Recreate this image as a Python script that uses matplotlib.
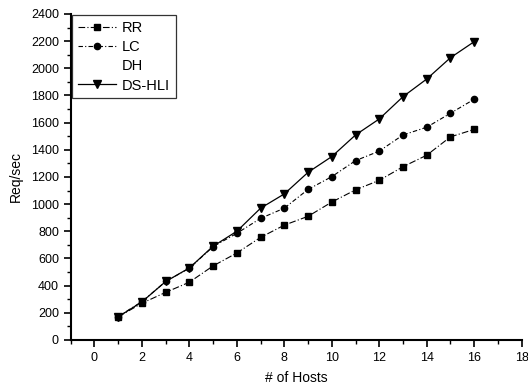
import matplotlib
matplotlib.use("Agg")
import matplotlib.pyplot as plt
from matplotlib.lines import Line2D
from matplotlib.ticker import MultipleLocator

plt.rcParams["font.family"] = ["Liberation Sans", "DejaVu Sans"]

# data
hosts = [1, 2, 3, 4, 5, 6, 7, 8, 9, 10, 11, 12, 13, 14, 15, 16]
rr = [170, 270, 350, 425, 545, 640, 755, 845, 910, 1015, 1105, 1175, 1275, 1360, 1495, 1550]
lc = [172, 282, 430, 528, 687, 785, 895, 970, 1108, 1202, 1320, 1390, 1509, 1566, 1669, 1772]
dshli = [170, 280, 430, 530, 690, 800, 970, 1075, 1234, 1350, 1509, 1627, 1791, 1921, 2078, 2196]

fig = plt.figure(figsize=(5.28, 3.88), dpi=100)
ax = fig.add_axes([0.134, 0.124, 0.854, 0.840])

ax.plot(hosts, rr, color="black", lw=0.8, ls=(0, (6, 2, 1, 2)), marker="s", ms=4, label="RR")
ax.plot(hosts, lc, color="black", lw=0.8, ls=(0, (4, 2, 1, 2)), marker="o", ms=4.5, label="LC")
ax.plot(hosts, dshli, color="black", lw=0.9, ls="-", marker="v", ms=5.5, label="DS-HLI")

handles, labels = ax.get_legend_handles_labels()
dh = Line2D([], [], color="none", marker=None)
handles = handles[:2] + [dh] + handles[2:]
labels = labels[:2] + ["DH"] + labels[2:]
leg = ax.legend(handles, labels, loc="upper left", bbox_to_anchor=(0.0, 1.0),
                fontsize=10.5, frameon=True, fancybox=False, edgecolor="black",
                handlelength=2.6, handletextpad=0.4, labelspacing=0.35,
                borderaxespad=0.1, borderpad=0.4)
leg.get_frame().set_linewidth(0.9)

ax.set_xlim(-1, 18)
ax.set_ylim(0, 2400)
ax.xaxis.set_major_locator(MultipleLocator(2))
ax.xaxis.set_minor_locator(MultipleLocator(1))
ax.yaxis.set_major_locator(MultipleLocator(200))
ax.yaxis.set_minor_locator(MultipleLocator(100))

for s in ("top", "right"):
    ax.spines[s].set_visible(False)
for s in ("left", "bottom"):
    ax.spines[s].set_linewidth(1.5)

ax.tick_params(which="major", direction="out", length=5, width=1.2, labelsize=9)
ax.tick_params(which="minor", direction="out", length=3, width=1.0)

ax.set_xlabel("# of Hosts", fontsize=10, labelpad=5)
ax.set_ylabel("Req/sec", fontsize=10, labelpad=6)

fig.savefig("out.png", dpi=100)
